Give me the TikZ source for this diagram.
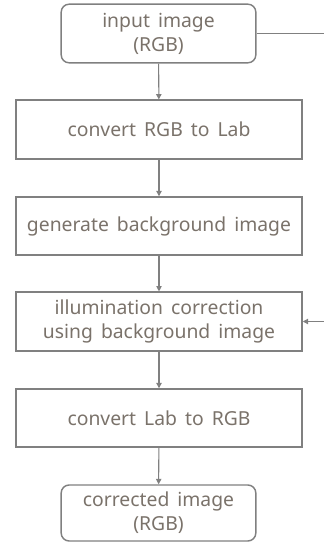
\documentclass[tikz,border=0pt]{standalone}
\usepackage{fontspec}
\setmainfont[WordSpace={1.6}]{Noto Sans}
\usetikzlibrary{arrows.meta}
\definecolor{linegray}{RGB}{128,128,128}
\definecolor{textgray}{RGB}{122,114,106}
\tikzset{
  stepbox/.style={draw=linegray,line width=1.1pt,minimum width=214.5pt,minimum height=44pt,inner sep=0pt,text=textgray,font=\fontsize{14.5}{18}\selectfont,align=center},
  endbox/.style={stepbox,rounded corners=6pt,minimum width=146pt},
  flow/.style={draw=linegray,line width=0.8pt,-{Triangle[width=4pt,length=4pt]}}
}
\begin{document}
\begin{tikzpicture}[x=0.75pt,y=-0.75pt]
    \useasboundingbox (0,0) rectangle (324,542);
    \node[endbox] (input) at (158.5,33.5) {input image\\(RGB)};
    \node[stepbox] (rgb2lab) at (159,129.5) {convert RGB to Lab};
    \node[stepbox,minimum height=43.5pt] (bgimg) at (159,226) {generate background image};
    \node[stepbox] (illum) at (159,321.5) {illumination correction\\using background image};
    \node[stepbox,minimum height=43.5pt] (lab2rgb) at (159,418) {convert Lab to RGB};
    \node[endbox,minimum height=42pt] (output) at (158.5,513) {corrected image\\(RGB)};
    \coordinate (side1) at (324,33.5);
    \coordinate (side2) at (324,321.5);
    \draw[flow] (input) -- (rgb2lab);
    \draw[flow] (rgb2lab) -- (bgimg);
    \draw[flow] (bgimg) -- (illum);
    \draw[flow] (illum) -- (lab2rgb);
    \draw[flow] (lab2rgb) -- (output);
    \draw[draw=linegray,line width=0.8pt] (input.east) -- (side1);
    \draw[flow] (side2) -- (illum.east);
\end{tikzpicture}
\end{document}
